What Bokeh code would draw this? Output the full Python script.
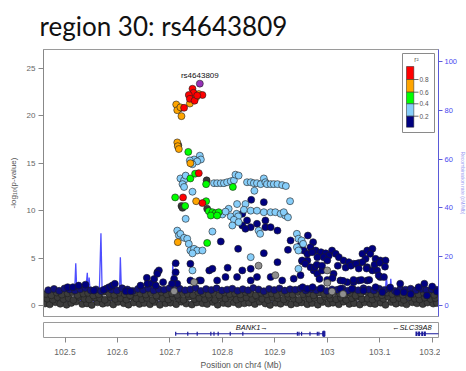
from bokeh.plotting import figure
from bokeh.models import Range1d, LinearAxis, FixedTicker
from bokeh.layouts import column
from bokeh.embed import file_html
from bokeh.resources import INLINE
from bokeh.core.properties import value

# ---------------- data ----------------
title_text = "region 30: rs4643809"
lead_x = [102.757]
lead_y = [23.4]
lead_name = "rs4643809"

red_x = [102.743, 102.745, 102.736, 102.762, 102.738, 102.747, 102.727, 102.752, 102.755, 102.725, 102.762]
red_y = [22.86, 22.43, 22.2, 22.2, 21.8, 21.6, 20.85, 22.15, 13.96, 11.4, 10.8]

orange_x = [102.712, 102.714, 102.720, 102.722, 102.755, 102.750, 102.738, 102.714, 102.715, 102.717, 102.739, 102.750, 102.715]
orange_y = [21.2, 20.6, 20.9, 19.97, 22.3, 21.97, 21.3, 17.2, 16.8, 16.5, 15.0, 11.0, 6.68]

green_x = [102.735, 102.739, 102.748, 102.769, 102.820, 102.710, 102.729, 102.769, 102.774, 102.781, 102.787, 102.793, 102.778, 102.790, 102.771]
green_y = [16.2, 13.4, 13.9, 12.8, 12.5, 11.4, 10.5, 11.0, 9.95, 9.84, 9.74, 9.84, 9.49, 9.49, 6.6]

lblue_x = [102.757, 102.759, 102.746, 102.738, 102.752, 102.743,
           102.720, 102.727, 102.724, 102.727, 102.730,
           102.784, 102.790, 102.797, 102.803, 102.809, 102.816, 102.822, 102.825, 102.831,
           102.847, 102.854, 102.860, 102.866, 102.873, 102.879, 102.882, 102.885, 102.892, 102.898, 102.905, 102.914, 102.921, 102.861,
           102.743,
           102.812, 102.828, 102.844, 102.841, 102.854, 102.866, 102.879, 102.892, 102.901, 102.911, 102.920, 102.929, 102.830, 102.816, 102.730, 102.800, 102.806,
           102.827, 102.830, 102.822, 102.819, 102.831, 102.781,
           102.942, 102.945, 102.951, 102.942, 102.945, 102.954, 102.945,
           102.714, 102.717, 102.720, 102.727, 102.733, 102.736,
           102.739, 102.746, 102.752, 102.762, 102.743, 102.743, 102.854, 102.869, 102.872, 102.917, 102.925]
lblue_y = [15.8, 15.4, 15.4, 15.3, 15.2, 14.9,
           13.4, 13.2, 12.8, 12.5, 13.7,
           12.9, 12.9, 12.9, 12.9, 13.0, 13.1, 13.2, 13.8, 13.7,
           13.0, 13.0, 12.9, 12.9, 12.8, 13.4, 13.0, 12.8, 12.8, 12.8, 12.8, 12.7, 12.6, 12.1,
           12.0,
           10.2, 10.7, 10.7, 10.1, 10.0, 10.0, 9.84, 9.84, 9.84, 9.67, 9.49, 11.0, 9.49, 9.4, 9.14, 9.6, 9.9,
           9.67, 9.4, 9.04, 8.44, 8.79, 7.8,
           7.56, 7.04, 6.86, 6.15, 5.8, 6.5, 3.87,
           7.9, 7.4, 7.56, 7.14, 7.04, 6.5,
           5.8, 5.98, 5.8, 5.8, 5.5, 3.7, 5.1, 7.9, 7.56, 9.84, 9.3]

dgrey_x = [102.719, 102.716, 102.770, 102.722, 102.771, 102.724]
dgrey_y = [20.8, 16.9, 13.2, 10.5, 10.2, 10.3]

na_x = [102.869, 102.901, 102.746, 103.000, 103.009, 103.000, 102.708, 103.030]
na_y = [4.2, 3.2, 2.46, 2.4, 1.48, 3.7, 1.5, 1.2]

navy_x = [102.505, 102.515, 102.526, 102.539, 102.555, 102.574, 102.584, 102.590, 102.595, 102.616, 102.625, 102.644,
          102.656, 102.657, 102.666, 102.670, 102.676, 102.673, 102.687, 102.711, 102.711, 102.708, 102.714, 102.704,
          102.739, 102.775, 102.781, 102.797, 102.810, 102.830, 102.838, 102.854, 102.838, 102.847, 102.854, 102.838,
          102.844, 102.866, 102.882, 102.882, 102.892, 102.905, 102.879, 102.905, 102.925, 102.930, 102.952, 102.962,
          102.892, 102.914, 102.828, 102.790, 102.756, 102.679, 102.676, 102.739, 102.759, 102.806, 102.854, 102.866,
          102.936, 102.949, 102.855, 102.879,
          102.963, 102.973, 102.968, 102.978, 102.988, 102.997, 103.009, 103.003, 102.993, 102.981,
          103.067, 103.076, 103.086, 103.082, 103.073, 103.092, 103.101, 103.111,
          102.949, 102.955, 102.962, 102.971, 103.016, 103.022, 103.031, 103.041, 103.050, 103.060, 103.067, 103.076,
          103.086, 103.095, 102.974, 102.981, 102.990, 103.012, 103.025, 103.038, 103.050, 103.060, 103.076, 103.101,
          102.952, 102.958, 102.968,
          102.953, 102.962, 102.972, 102.987, 103.025, 103.047, 103.069, 103.092, 103.105, 103.133, 103.146, 103.174,
          103.209, 103.159, 103.190, 103.139, 103.185, 103.120, 103.200,
          102.976, 102.980, 103.000, 102.990, 103.020, 103.035, 103.045, 103.055, 103.060, 103.075, 103.090, 103.100, 103.110,
          102.985, 103.000, 103.010, 103.030, 103.050, 103.065, 103.080, 103.098, 103.108]
navy_y = [1.93, 1.93, 2.1, 2.2, 1.58, 1.65, 1.93, 2.1, 2.29, 1.5, 1.5, 2.1,
          2.92, 2.29, 2.36, 2.8, 3.5, 2.1, 2.46, 4.46, 3.5, 2.8, 2.29, 2.29,
          4.4, 3.7, 3.87, 6.75, 3.98, 5.98, 3.7, 3.87, 9.67, 8.97, 8.26, 8.44,
          8.09, 8.62, 8.97, 8.26, 8.26, 7.9, 5.52, 4.57, 5.87, 6.86, 4.67, 4.75,
          3.0, 2.64, 3.0, 2.64, 2.64, 3.7, 3.34, 2.64, 2.64, 3.0, 2.64, 3.0,
          2.83, 3.2, 11.15, 10.9,
          7.38, 6.68, 6.15, 5.8, 5.62, 5.5, 5.8, 5.27, 5.1, 5.1,
          5.45, 5.8, 5.98, 5.45, 4.92, 4.92, 4.75, 4.75,
          6.33, 5.8, 5.45, 5.62, 5.45, 5.1, 4.75, 4.57, 4.4, 4.47, 4.57, 4.04,
          3.7, 3.7, 3.7, 3.34, 3.7, 3.34, 2.64, 2.46, 2.46, 2.64, 2.64, 3.0,
          4.75, 4.4, 4.04,
          1.93, 1.76, 1.93, 1.76, 1.76, 1.76, 1.58, 1.93, 1.4, 1.4, 1.4, 1.93,
          1.48, 1.2, 1.05, 2.3, 2.3, 1.9, 2.0,
          4.04, 4.3, 4.75, 4.2, 4.2, 4.0, 4.2, 4.4, 3.9, 3.9, 4.3, 4.5, 4.1,
          2.8, 2.7, 2.9, 2.6, 2.7, 2.7, 2.7, 3.16, 3.0]

bandA_x = [102.462, 102.471, 102.482, 102.491, 102.503, 102.512, 102.521, 102.533, 102.542, 102.551, 102.562, 102.572,
           102.581, 102.592, 102.601, 102.612, 102.621, 102.631, 102.642, 102.651, 102.662, 102.671, 102.681, 102.692,
           102.701, 102.712, 102.722, 102.731, 102.742, 102.751, 102.762, 102.771, 102.782, 102.791, 102.802, 102.811,
           102.822, 102.831, 102.842, 102.851, 102.862, 102.871, 102.882, 102.891, 102.902, 102.911, 102.922, 102.931,
           102.942, 102.951, 102.962, 102.971, 102.982, 102.991, 103.002, 103.011, 103.022, 103.031, 103.042, 103.051,
           103.062, 103.071, 103.082, 103.091, 103.102, 103.111, 103.122, 103.131, 103.142, 103.151, 103.162, 103.171,
           103.182, 103.191, 103.202, 103.209]
bandA_y = [0.21, 0.12, 0.35, 0.18, 0.08, 0.27, 0.41, 0.15, 0.22, 0.06, 0.33, 0.19, 0.28, 0.11, 0.38, 0.24, 0.09, 0.31,
           0.17, 0.26, 0.13, 0.36, 0.07, 0.23, 0.29, 0.14, 0.4, 0.2, 0.1, 0.32, 0.25, 0.16, 0.37, 0.08, 0.27, 0.19,
           0.34, 0.12, 0.23, 0.3, 0.15, 0.39, 0.21, 0.06, 0.28, 0.18, 0.35, 0.11, 0.24, 0.32, 0.14, 0.26, 0.09, 0.37,
           0.2, 0.29, 0.13, 0.4, 0.17, 0.25, 0.1, 0.33, 0.22, 0.16, 0.3, 0.07, 0.36, 0.19, 0.27, 0.12, 0.34, 0.23,
           0.15, 0.31, 0.2, 0.26]
bandB_x = [102.466, 102.477, 102.486, 102.497, 102.507, 102.516, 102.527, 102.537, 102.546, 102.557, 102.567, 102.576,
           102.587, 102.596, 102.606, 102.617, 102.626, 102.636, 102.647, 102.656, 102.667, 102.676, 102.686, 102.697,
           102.706, 102.717, 102.726, 102.736, 102.747, 102.756, 102.767, 102.776, 102.786, 102.797, 102.806, 102.816,
           102.827, 102.836, 102.846, 102.857, 102.866, 102.876, 102.887, 102.896, 102.906, 102.917, 102.926, 102.936,
           102.946, 102.957, 102.966, 102.976, 102.987, 102.996, 103.006, 103.017, 103.026, 103.036, 103.047, 103.056,
           103.066, 103.077, 103.086, 103.096, 103.107, 103.116, 103.126, 103.137, 103.146, 103.156, 103.167, 103.176,
           103.186, 103.197, 103.206]
bandB_y = [0.72, 0.61, 0.88, 0.67, 0.79, 0.58, 0.91, 0.7, 0.64, 0.83, 0.75, 0.6, 0.86, 0.69, 0.77, 0.62, 0.94, 0.73,
           0.66, 0.81, 0.57, 0.89, 0.74, 0.63, 0.85, 0.71, 0.6, 0.92, 0.68, 0.78, 0.65, 0.87, 0.59, 0.8, 0.73, 0.9,
           0.62, 0.76, 0.84, 0.67, 0.93, 0.7, 0.58, 0.82, 0.75, 0.64, 0.88, 0.72, 0.61, 0.86, 0.69, 0.79, 0.56, 0.91,
           0.74, 0.66, 0.83, 0.6, 0.77, 0.89, 0.68, 0.73, 0.63, 0.85, 0.7, 0.92, 0.65, 0.8, 0.59, 0.87, 0.72, 0.64,
           0.84, 0.69, 0.78]
bandC_x = [102.464, 102.474, 102.484, 102.494, 102.505, 102.514, 102.524, 102.535, 102.544, 102.554, 102.564, 102.574,
           102.584, 102.594, 102.604, 102.614, 102.624, 102.634, 102.644, 102.654, 102.664, 102.674, 102.684, 102.694,
           102.704, 102.714, 102.724, 102.734, 102.744, 102.754, 102.764, 102.774, 102.784, 102.794, 102.804, 102.814,
           102.824, 102.834, 102.844, 102.854, 102.864, 102.874, 102.884, 102.894, 102.904, 102.914, 102.924, 102.934,
           102.944, 102.954, 102.964, 102.974, 102.984, 102.994, 103.004, 103.014, 103.024, 103.034, 103.044, 103.054,
           103.064, 103.074, 103.084, 103.094, 103.104, 103.114, 103.124, 103.134, 103.144, 103.154, 103.164, 103.174,
           103.184, 103.194, 103.204]
bandC_y = [1.22, 1.08, 1.37, 1.15, 1.29, 1.41, 1.11, 1.26, 1.33, 1.06, 1.19, 1.44, 1.24, 1.13, 1.35, 1.2, 1.09, 1.39,
           1.27, 1.16, 1.31, 1.05, 1.42, 1.18, 1.28, 1.12, 1.36, 1.23, 1.1, 1.4, 1.25, 1.14, 1.32, 1.07, 1.38, 1.21,
           1.3, 1.17, 1.43, 1.26, 1.09, 1.34, 1.19, 1.28, 1.11, 1.37, 1.24, 1.15, 1.41, 1.2, 1.3, 1.08, 1.35, 1.22,
           1.13, 1.39, 1.27, 1.16, 1.33, 1.06, 1.29, 1.44, 1.18, 1.25, 1.1, 1.36, 1.21, 1.31, 1.14, 1.4, 1.23, 1.17,
           1.34, 1.26, 1.12]
bandD_x = [102.468, 102.479, 102.489, 102.499, 102.509, 102.519, 102.529, 102.539, 102.549, 102.559, 102.569, 102.579,
           102.589, 102.599, 102.609, 102.619, 102.629, 102.639, 102.649, 102.659, 102.669, 102.679, 102.689, 102.699,
           102.709, 102.719, 102.729, 102.739, 102.749, 102.759, 102.769, 102.779, 102.789, 102.799, 102.809, 102.819,
           102.829, 102.839, 102.849, 102.859, 102.869, 102.879, 102.889, 102.899, 102.909, 102.919, 102.929, 102.939,
           102.949, 102.959, 102.969, 102.979, 102.989, 102.999, 103.009, 103.019, 103.029, 103.039, 103.049, 103.059,
           103.069, 103.079, 103.089, 103.099, 103.109, 103.119, 103.129, 103.139, 103.149, 103.159, 103.169, 103.179,
           103.189, 103.199, 103.208]
bandD_y = [1.62, 1.75, 1.55, 1.8, 1.68, 1.58, 1.72, 1.84, 1.6, 1.7, 1.52, 1.78, 1.65, 1.57, 1.82, 1.69, 1.54, 1.74,
           1.63, 1.79, 1.59, 1.71, 1.66, 1.83, 1.56, 1.76, 1.61, 1.7, 1.85, 1.53, 1.73, 1.64, 1.81, 1.58, 1.67, 1.77,
           1.55, 1.72, 1.6, 1.84, 1.69, 1.51, 1.75, 1.63, 1.8, 1.57, 1.71, 1.66, 1.78, 1.59, 1.74, 1.62, 1.83, 1.54,
           1.7, 1.65, 1.79, 1.56, 1.73, 1.61, 1.82, 1.68, 1.58, 1.76, 1.64, 1.8, 1.53, 1.72, 1.67, 1.77, 1.6, 1.75,
           1.62, 1.7, 1.66]

recomb_x = [102.459, 102.468, 102.480, 102.492, 102.503, 102.512, 102.518, 102.5205, 102.523, 102.530, 102.538, 102.5425,
            102.5445, 102.546, 102.549, 102.556, 102.565, 102.5685, 102.571, 102.578, 102.590, 102.600, 102.604, 102.6055,
            102.608, 102.620, 102.640, 102.660, 102.680, 102.696, 102.703, 102.7055, 102.708, 102.720, 102.750, 102.780,
            102.810, 102.840, 102.870, 102.900, 102.930, 102.960, 102.990, 103.020, 103.050, 103.080, 103.100, 103.110,
            103.1125, 103.116, 103.119, 103.121, 103.124, 103.140, 103.160, 103.180, 103.200, 103.212]
recomb_y = [2.0, 3.0, 1.5, 2.5, 1.8, 2.2, 3.5, 17.3, 3.0, 2.0, 2.6, 13.4, 4.0, 11.5, 2.5, 1.6, 2.4, 29.6, 3.0, 1.8,
            2.2, 2.0, 6.0, 19.8, 2.5, 1.5, 2.0, 1.2, 1.8, 2.5, 3.0, 17.0, 2.6, 1.5, 1.2, 1.0, 1.4, 0.8, 1.1, 1.5,
            0.9, 1.3, 1.0, 1.6, 1.2, 2.0, 1.8, 2.5, 12.3, 3.0, 2.5, 10.9, 2.8, 1.6, 2.2, 1.5, 2.0, 1.8]

legend_colors = ["#FF0000", "#FFA500", "#00FF00", "#87CEFA", "#000080"]
legend_labels = ["0.8", "0.6", "0.4", "0.2"]

left_ticks = [0, 5, 10, 15, 20, 25]
right_ticks = [0, 20, 40, 60, 80, 100]
x_ticks = [102.5, 102.6, 102.7, 102.8, 102.9, 103.0, 103.1, 103.2]
x_tick_labels = ["102.5", "102.6", "102.7", "102.8", "102.9", "103", "103.1", "103.2"]

bank1_start, bank1_end = 102.711, 102.995
bank1_exons = [102.711, 102.734, 102.752, 102.778, 102.784, 102.792, 102.815, 102.839,
               102.943, 102.946, 102.951, 102.967, 102.981, 102.984, 102.992]
slc_start, slc_end = 103.170, 103.215
slc_exons = [103.170, 103.175, 103.181, 103.186]

# ---------------- layout helpers ----------------
X0, X1 = 102.459, 103.212
Y0, Y1 = -1.16, 27.0
R0, R1 = -4.51, 104.9
FW, FH = 395, 267


def px2x(px):
    return X0 + px * (X1 - X0) / FW


def py2y(py):
    return Y1 - py * (Y1 - Y0) / FH


AX = "Liberation Sans"

p = figure(frame_width=FW, frame_height=FH, x_range=Range1d(X0, X1), y_range=Range1d(Y0, Y1),
           output_backend="svg", toolbar_location=None,
           min_border_left=43, min_border_right=2, min_border_top=49, min_border_bottom=3)
p.title.text = title_text
p.title.text_font = "Lato"
p.title.text_font_size = "26px"
p.title.text_font_style = "normal"
p.title.text_color = "#111111"
p.title.offset = -4
p.title.standoff = 15
p.grid.visible = False
p.xaxis.visible = False
p.outline_line_color = "#9a9a9a"
p.background_fill_color = "white"
p.border_fill_color = "white"

ya = p.yaxis[0]
ya.ticker = FixedTicker(ticks=left_ticks)
ya.axis_label = "-log\u2081\u2080(p-value)"
ya.axis_label_text_font = AX
ya.axis_label_text_font_size = "8px"
ya.axis_label_text_font_style = "normal"
ya.axis_label_text_color = "#555555"
ya.axis_label_standoff = 6
ya.major_label_text_font = AX
ya.major_label_text_font_size = "8px"
ya.major_label_text_color = "#666666"
ya.major_label_standoff = 3
ya.major_tick_out = 5
ya.major_tick_in = 0
ya.minor_tick_out = 0
ya.minor_tick_in = 0
ya.axis_line_color = "#888888"
ya.major_tick_line_color = "#888888"

p.extra_y_ranges = {"recomb": Range1d(R0, R1)}
ra = LinearAxis(y_range_name="recomb", ticker=FixedTicker(ticks=right_ticks),
                axis_label="Recombination rate (cM/Mb)")
ra.axis_label_text_font = AX
ra.axis_label_text_font_size = "5px"
ra.axis_label_text_font_style = "normal"
ra.axis_label_text_color = "#9b9bf0"
ra.axis_label_standoff = 0
ra.major_label_text_font = AX
ra.major_label_text_font_size = "7.5px"
ra.major_label_text_color = "#4a4af0"
ra.major_label_standoff = 2
ra.major_tick_out = 4
ra.major_tick_in = 0
ra.minor_tick_out = 0
ra.minor_tick_in = 0
ra.axis_line_color = "#5a5ad8"
ra.major_tick_line_color = "#5a5ad8"
p.add_layout(ra, "right")

# recombination rate
p.line(recomb_x, recomb_y, y_range_name="recomb", line_color="#2f2fff", line_width=1.3, line_alpha=0.85)

PS = 7
OUT = "#1e1e1e"
LW = 0.6


def pts(xs, ys, color, outline=OUT):
    n = min(len(xs), len(ys))
    p.scatter(xs[:n], ys[:n], size=PS, fill_color=color, line_color=outline, line_width=LW)


pts(bandA_x, bandA_y, "#3c3c3c")
pts(bandB_x, bandB_y, "#3a3a3a")
pts(bandC_x, bandC_y, "#3c3c3c")
pts(bandD_x, bandD_y, "#10107a")
pts(navy_x, navy_y, "#000080")
pts(na_x, na_y, "#8f8f8f")
pts(dgrey_x, dgrey_y, "#3c3c3c")
pts(lblue_x, lblue_y, "#87CEFA")
pts(green_x, green_y, "#00FF00")
pts(orange_x, orange_y, "#FFA500")
pts(red_x, red_y, "#FF0000")
pts(lead_x, lead_y, "#9632B8")

p.text([lead_x[0]], [lead_y[0] + 0.85], text=[lead_name], text_font=value(AX),
       text_font_size="8px", text_color="#111111", text_align="center", text_baseline="middle")

# legend box (frame-relative pixel positions)
p.quad(left=[px2x(359)], right=[px2x(391)], top=[py2y(4)], bottom=[py2y(83)],
       fill_color="white", line_color="#8a8a8a", line_width=1)
ltops = [17, 30, 42.7, 54.3, 66.7]
lbots = [30, 42.7, 54.3, 66.7, 77.7]
p.quad(left=[px2x(363)] * 5, right=[px2x(370.3)] * 5,
       top=[py2y(t) for t in ltops], bottom=[py2y(b) for b in lbots],
       fill_color=legend_colors, line_color="#222222", line_width=0.5)
bnd = [30, 42.7, 54.3, 66.7]
p.segment(x0=[px2x(370.3)] * 4, x1=[px2x(375)] * 4, y0=[py2y(b) for b in bnd], y1=[py2y(b) for b in bnd],
          line_color="#444444", line_width=0.8)
p.text([px2x(376)] * 4, [py2y(b) for b in bnd], text=legend_labels, text_font=value(AX),
       text_font_size="6.5px", text_color="#555555", text_align="left", text_baseline="middle")
p.text([px2x(373)], [py2y(13)], text=["r\u00b2"], text_font=value(AX),
       text_font_size="6.5px", text_color="#555555", text_align="center", text_baseline="bottom")

# ---------------- gene panel ----------------
g = figure(frame_width=FW, frame_height=15, x_range=p.x_range, y_range=Range1d(0, 1),
           output_backend="svg", toolbar_location=None,
           min_border_left=43, min_border_right=2, min_border_top=3, min_border_bottom=0)
g.grid.visible = False
g.yaxis.visible = False
g.outline_line_color = "#9a9a9a"
xa = g.xaxis[0]
xa.ticker = FixedTicker(ticks=x_ticks)
xa.major_label_overrides = {t: l for t, l in zip(x_ticks, x_tick_labels)}
xa.axis_label = "Position on chr4 (Mb)"
xa.axis_label_text_font = AX
xa.axis_label_text_font_size = "8.5px"
xa.axis_label_text_font_style = "normal"
xa.axis_label_text_color = "#555555"
xa.axis_label_standoff = 2
xa.major_label_text_font = AX
xa.major_label_text_font_size = "8.5px"
xa.major_label_text_color = "#666666"
xa.major_label_standoff = 6
xa.major_tick_out = 5
xa.major_tick_in = 0
xa.minor_tick_out = 0
xa.minor_tick_in = 0
xa.axis_line_color = None
xa.major_tick_line_color = "#888888"

GC = "#1a1a9a"
g.segment(x0=[bank1_start, slc_start], x1=[bank1_end, slc_end], y0=[0.25, 0.25], y1=[0.25, 0.25],
          line_color=GC, line_width=1)
g.segment(x0=bank1_exons, x1=bank1_exons, y0=[0.12] * len(bank1_exons), y1=[0.38] * len(bank1_exons),
          line_color=GC, line_width=1.2)
g.quad(left=[102.9915], right=[102.9955], top=[0.42], bottom=[0.08], fill_color=GC, line_color=GC)
g.segment(x0=slc_exons, x1=slc_exons, y0=[0.1] * len(slc_exons), y1=[0.4] * len(slc_exons),
          line_color=GC, line_width=2)
g.text([102.856], [0.68], text=["BANK1\u2192"], text_font=value(AX), text_font_style="italic",
       text_font_size="7.5px", text_color="#111111", text_align="center", text_baseline="middle")
g.text([103.199], [0.68], text=["\u2190SLC39A8"], text_font=value(AX), text_font_style="italic",
       text_font_size="7.5px", text_color="#111111", text_align="right", text_baseline="middle")

lay = column(p, g, spacing=0)
open("out.html", "w").write(file_html(lay, INLINE))
